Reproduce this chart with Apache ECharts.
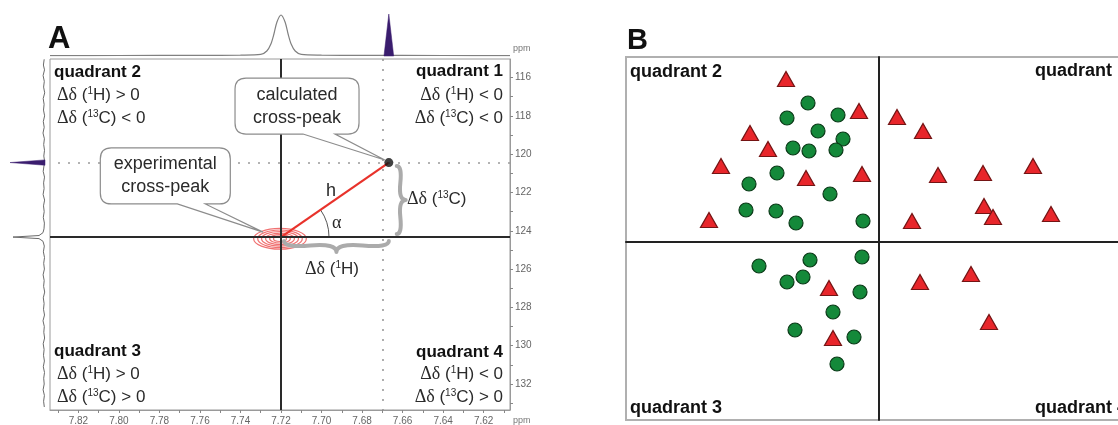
<!DOCTYPE html>
<html><head><meta charset="utf-8">
<script src="https://cdn.jsdelivr.net/npm/echarts@6/dist/echarts.min.js"></script>
<style>html,body{margin:0;padding:0;background:#fff}#c{width:1118px;height:425px}</style>
</head><body><div id="c"></div>
<script>
// ---------- Panel A data (1H ppm on x, 13C ppm on y) ----------
const xLabelsA = [7.82,7.80,7.78,7.76,7.74,7.72,7.70,7.68,7.66,7.64,7.62];
const xTicksA = [7.83,7.82,7.81,7.80,7.79,7.78,7.77,7.76,7.75,7.74,7.73,7.72,7.71,7.70,7.69,7.68,7.67,7.66,7.65,7.64,7.63,7.62,7.61];
const yLabelsA = [116,118,120,122,124,126,128,130,132];
const yTicksA = [116,117,118,119,120,121,122,123,124,125,126,127,128,129,130,131,132,133];
const expPeak = [7.72, 124.33];
const calcPeak = [7.6668, 120.44];
const contourCenter = [7.7205, 124.42];
const contourRx = [0.0130,0.0110,0.0091,0.0071,0.0051,0.0032];
const contourRy = [0.54,0.46,0.38,0.30,0.22,0.14];
// top 1D 1H trace: [ppm, intensity]
const topTrace = [[7.834,0.3],[7.80,0.5],[7.76,0.6],[7.74,0.9],[7.730,1.6],[7.727,5],[7.725,12],[7.7235,22],[7.722,34],[7.720,41],[7.718,34],[7.7165,22],[7.715,12],[7.713,5],[7.710,1.6],[7.70,0.9],[7.68,0.6],[7.64,0.5],[7.607,0.3]];
const topPurple = [[7.6692,0],[7.6668,42],[7.6644,0]];
// left 1D 13C trace: [intensity, ppm]
const leftTrace = [[0.8,115.05],[1.6,115.35],[0.5,115.6],[1.9,115.9],[0.7,116.2],[1.4,116.5],[0.3,116.8],[1.8,117.1],[0.9,117.4],[1.5,117.7],[0.4,118.0],[1.7,118.3],[0.8,118.6],[2.0,118.9],[0.6,119.2],[1.3,119.5],[0.5,119.8],[1.2,120.1],[0.6,120.3],[1.0,120.6],[1.8,120.9],[0.5,121.2],[1.4,121.5],[0.9,121.8],[1.9,122.1],[0.4,122.4],[1.5,122.7],[0.8,123.0],[1.7,123.3],[0.6,123.6],[1.0,123.9],[2.0,124.1],[6,124.25],[32,124.33],[6,124.41],[2.0,124.55],[0.7,124.8],[1.6,125.1],[0.5,125.4],[1.3,125.7],[0.6,126.0],[1.9,126.3],[0.8,126.6],[1.4,126.9],[0.3,127.2],[1.7,127.5],[0.9,127.8],[1.5,128.1],[0.5,128.4],[2.0,128.7],[0.7,129.0],[1.2,129.3],[0.4,129.6],[1.8,129.9],[0.9,130.2],[1.5,130.5],[0.6,130.8],[1.7,131.1],[0.5,131.4],[1.3,131.7],[0.8,132.0],[1.9,132.3],[0.6,132.6],[1.4,132.9],[0.7,133.2]];
const leftPurple = [[0,120.30],[35,120.44],[0,120.58]];
// braces: [x1, y1, x2, y2] in ppm
const braceH = [7.7185,124.54,7.6668,124.54];
const braceV = [7.6629,124.17,7.6629,120.62];
// callouts: [tipX, tipY, boxCenterX, boxCenterY] in ppm
const calloutCalc = [7.6678,120.36,7.7121,117.49];
const calloutExp = [7.7289,124.07,7.7771,121.14];

// ---------- Panel B data ----------
const circlesB = [[-7.1,13.9],[-9.2,12.4],[-4.1,12.7],[-6.1,11.1],[-3.6,10.3],[-8.6,9.4],[-7.0,9.1],[-4.3,9.2],[-10.2,6.9],[-13.0,5.8],[-4.9,4.8],[-13.3,3.2],[-10.3,3.1],[-8.3,1.9],[-1.6,2.1],[-12.0,-2.4],[-6.9,-1.8],[-1.7,-1.5],[-9.2,-4.0],[-7.6,-3.5],[-1.9,-5.0],[-4.6,-7.0],[-8.4,-8.8],[-2.5,-9.5],[-4.2,-12.2]];
const trianglesB = [[-9.3,16.3],[-2.0,13.1],[-12.9,10.9],[-11.1,9.3],[-15.8,7.6],[-7.3,6.4],[-1.7,6.8],[-17.0,2.2],[1.8,12.5],[4.4,11.1],[5.9,6.7],[10.4,6.9],[15.4,7.6],[10.5,3.6],[11.4,2.5],[17.2,2.8],[3.3,2.1],[4.1,-4.0],[9.2,-3.2],[11.0,-8.0],[-5.0,-4.6],[-4.6,-9.6]];

const FONT = 'Liberation Sans, Arial, sans-serif';
const SERIF = 'Liberation Serif, Times New Roman, serif';
const xMinA = 7.607, xMaxA = 7.834, yMinA = 115.034, yMaxA = 133.357;

function bracePath(x1,y1,x2,y2,w,q){
  let dx=x1-x2, dy=y1-y2; const len=Math.sqrt(dx*dx+dy*dy); dx/=len; dy/=len;
  const qx1=x1+q*w*dy, qy1=y1-q*w*dx;
  const qx2=(x1-.25*len*dx)+(1-q)*w*dy, qy2=(y1-.25*len*dy)-(1-q)*w*dx;
  const tx=(x1-.5*len*dx)+w*dy, ty=(y1-.5*len*dy)-w*dx;
  const qx3=x2+q*w*dy, qy3=y2-q*w*dx;
  const qx4=(x1-.75*len*dx)+(1-q)*w*dy, qy4=(y1-.75*len*dy)-(1-q)*w*dx;
  const c1x=2*qx2-qx1, c1y=2*qy2-qy1, c2x=2*qx4-qx3, c2y=2*qy4-qy3;
  return 'M'+x1+','+y1+' Q'+qx1+','+qy1+' '+qx2+','+qy2+' Q'+c1x+','+c1y+' '+tx+','+ty+
         ' M'+x2+','+y2+' Q'+qx3+','+qy3+' '+qx4+','+qy4+' Q'+c2x+','+c2y+' '+tx+','+ty;
}
function calloutPath(cx,cy,w,h,r,b1,b2,tx,ty){
  const x0=cx-w/2,x1=cx+w/2,y0=cy-h/2,y1=cy+h/2;
  return 'M'+(x0+r)+','+y0+' L'+(x1-r)+','+y0+' Q'+x1+','+y0+' '+x1+','+(y0+r)+
    ' L'+x1+','+(y1-r)+' Q'+x1+','+y1+' '+(x1-r)+','+y1+
    ' L'+(cx+b2)+','+y1+' L'+tx+','+ty+' L'+(cx+b1)+','+y1+
    ' L'+(x0+r)+','+y1+' Q'+x0+','+y1+' '+x0+','+(y1-r)+
    ' L'+x0+','+(y0+r)+' Q'+x0+','+y0+' '+(x0+r)+','+y0+' Z';
}
const calloutCfg = [
  {w:124,h:56,b1:6,b2:38,text:'calculated\ncross-peak',tdx:-2,tdy:-1},
  {w:130,h:56,b1:12,b2:40,text:'experimental\ncross-peak',tdx:0,tdy:0}
];

const rich = {
  d:{fontFamily:SERIF,fontSize:18,fill:'#2a2a2a'},
  s:{fontFamily:FONT,fontSize:10,verticalAlign:'top',lineHeight:9,fill:'#2a2a2a'}
};
function txt(x,y,text,o){
  o=o||{};
  return {type:'text',x:x,y:y,z:100,silent:true,style:{text:text,fontFamily:o.family||FONT,fontSize:o.size||17,
    fontWeight:o.weight||'normal',fill:o.color||'#2a2a2a',align:o.align||'left',textAlign:o.align||'left',
    verticalAlign:'middle',textVerticalAlign:'middle',rich:rich}};
}
const H = '{d|Δδ} ({s|1}H)';
const C = '{d|Δδ} ({s|13}C)';

const graphics = [
  txt(48,39,'A',{size:31,weight:'bold',color:'#111'}),
  txt(627,41,'B',{size:29,weight:'bold',color:'#111'}),
  txt(54,72,'quadrant 2',{weight:'bold',color:'#111'}),
  txt(57,95,H+' > 0'), txt(57,118,C+' < 0'),
  txt(503,71,'quadrant 1',{weight:'bold',color:'#111',align:'right'}),
  txt(503,95,H+' < 0',{align:'right'}), txt(503,118,C+' < 0',{align:'right'}),
  txt(54,351,'quadrant 3',{weight:'bold',color:'#111'}),
  txt(57,374,H+' > 0'), txt(57,397,C+' > 0'),
  txt(503,352,'quadrant 4',{weight:'bold',color:'#111',align:'right'}),
  txt(503,374,H+' < 0',{align:'right'}), txt(503,397,C+' > 0',{align:'right'}),
  txt(326,191,'h',{size:18}),
  txt(332,223,'{d|α}',{size:18}),
  txt(407,199,C,{size:17}),
  txt(305,269,H,{size:17}),
  txt(513,49,'ppm',{size:9,color:'#777'}),
  txt(513,421,'ppm',{size:9,color:'#777'}),
  txt(630,72,'quadrant 2',{size:18,weight:'bold',color:'#111'}),
  txt(1127,71,'quadrant 1',{size:18,weight:'bold',color:'#111',align:'right'}),
  txt(630,408,'quadrant 3',{size:18,weight:'bold',color:'#111'}),
  txt(1127,408,'quadrant 4',{size:18,weight:'bold',color:'#111',align:'right'})
];

function polygonRender(arr, color){
  return function(params, api){
    if (params.dataIndex !== 0) return;
    return {type:'polygon',shape:{points:arr.map(p=>api.coord(p))},style:{fill:color,stroke:color,lineWidth:0.5}};
  };
}

const chart = echarts.init(document.getElementById('c'));
chart.setOption({
  animation:false,
  backgroundColor:'#fff',
  graphic:graphics,
  grid:[
    {left:50,top:59,width:460,height:351,show:true,borderColor:'#9a9a9a',borderWidth:1,backgroundColor:'rgba(0,0,0,0)',outerBoundsMode:'none'},
    {left:50,top:10,width:460,height:46,outerBoundsMode:'none'},
    {left:5,top:59,width:42,height:351,outerBoundsMode:'none'},
    {left:626,top:57,width:506,height:363,show:true,borderColor:'#b0b0b0',borderWidth:2,backgroundColor:'rgba(0,0,0,0)',outerBoundsMode:'none'}
  ],
  xAxis:[
    {gridIndex:0,type:'value',min:xMinA,max:xMaxA,inverse:true,position:'bottom',
     axisLine:{show:true,onZero:false,lineStyle:{color:'#9a9a9a',width:1}},
     axisTick:{show:true,customValues:xTicksA,length:3,lineStyle:{color:'#888'}},
     axisLabel:{show:true,customValues:xLabelsA,formatter:v=>v.toFixed(2),color:'#666',fontSize:10,margin:6,fontFamily:FONT},
     splitLine:{show:false}},
    {gridIndex:1,type:'value',min:xMinA,max:xMaxA,inverse:true,show:false},
    {gridIndex:2,type:'value',min:-2,max:40,inverse:true,show:false},
    {gridIndex:3,type:'value',min:-25.3,max:25.3,axisLine:{show:true,onZero:true,lineStyle:{color:'#222',width:2}},
     axisTick:{show:false},axisLabel:{show:false},splitLine:{show:false}}
  ],
  yAxis:[
    {gridIndex:0,type:'value',min:yMinA,max:yMaxA,inverse:true,position:'right',
     axisLine:{show:true,onZero:false,lineStyle:{color:'#9a9a9a',width:1}},
     axisTick:{show:true,customValues:yTicksA,length:3,lineStyle:{color:'#888'}},
     axisLabel:{show:true,customValues:yLabelsA,color:'#666',fontSize:10,margin:5,fontFamily:FONT},
     splitLine:{show:false}},
    {gridIndex:1,type:'value',min:0,max:46,show:false},
    {gridIndex:2,type:'value',min:yMinA,max:yMaxA,inverse:true,show:false},
    {gridIndex:3,type:'value',min:-17.8,max:18.5,axisLine:{show:true,onZero:true,lineStyle:{color:'#222',width:2}},
     axisTick:{show:false},axisLabel:{show:false},splitLine:{show:false}}
  ],
  series:[
    {type:'line',xAxisIndex:1,yAxisIndex:1,data:topTrace,smooth:0.3,symbol:'none',lineStyle:{color:'#808080',width:1.2},z:2},
    {type:'custom',xAxisIndex:1,yAxisIndex:1,data:topPurple,renderItem:polygonRender(topPurple,'#3a1d6e'),z:3},
    {type:'line',xAxisIndex:2,yAxisIndex:2,data:leftTrace,symbol:'none',lineStyle:{color:'#6a6a6a',width:1},z:2},
    {type:'custom',xAxisIndex:2,yAxisIndex:2,data:leftPurple,renderItem:polygonRender(leftPurple,'#3a1d6e'),z:3},
    // guide lines
    {type:'line',xAxisIndex:0,yAxisIndex:0,data:[],z:1,
     markLine:{silent:true,symbol:['none','none'],label:{show:false},animation:false,
      data:[
        {xAxis:calcPeak[0],lineStyle:{color:'#9a9a9a',type:[2,8],width:1.6}},
        {yAxis:calcPeak[1],lineStyle:{color:'#9a9a9a',type:[2,8],width:1.6}},
        {xAxis:expPeak[0],lineStyle:{color:'#2a2a2a',type:'solid',width:2}},
        {yAxis:expPeak[1],lineStyle:{color:'#2a2a2a',type:'solid',width:2}}
      ]}},
    // contours
    {type:'custom',xAxisIndex:0,yAxisIndex:0,z:3,
     data:contourRx.map((rx,i)=>[contourCenter[0],contourCenter[1],rx,contourRy[i]]),
     renderItem:function(params,api){
       const c=api.coord([api.value(0),api.value(1)]);
       const e=api.coord([api.value(0)+api.value(2),api.value(1)+api.value(3)]);
       return {type:'ellipse',shape:{cx:c[0],cy:c[1],rx:Math.abs(e[0]-c[0]),ry:Math.abs(e[1]-c[1])},
         style:{fill:null,stroke:'#f07272',lineWidth:1.2}};
     }},
    // red h line
    {type:'line',xAxisIndex:0,yAxisIndex:0,data:[expPeak,calcPeak],symbol:'none',lineStyle:{color:'#e8322b',width:2.2},z:4},
    // braces
    {type:'custom',xAxisIndex:0,yAxisIndex:0,z:4,data:[braceH.concat([11]),braceV.concat([9])],
     renderItem:function(params,api){
       const a=api.coord([api.value(0),api.value(1)]), b=api.coord([api.value(2),api.value(3)]);
       return {type:'path',shape:{pathData:bracePath(a[0],a[1],b[0],b[1],api.value(4),0.6)},
         style:{fill:null,stroke:'#ababab',lineWidth:4,lineCap:'round',lineJoin:'round'}};
     }},
    // angle arc
    {type:'custom',xAxisIndex:0,yAxisIndex:0,z:4,data:[expPeak.concat(calcPeak)],
     renderItem:function(params,api){
       const a=api.coord([api.value(0),api.value(1)]), b=api.coord([api.value(2),api.value(3)]);
       const ang=Math.atan2(b[1]-a[1],b[0]-a[0]);
       return {type:'arc',shape:{cx:a[0],cy:a[1],r:48,startAngle:ang,endAngle:0,clockwise:true},
         style:{fill:null,stroke:'#555',lineWidth:1}};
     }},
    // callouts
    {type:'custom',xAxisIndex:0,yAxisIndex:0,z:6,data:[calloutCalc,calloutExp],
     renderItem:function(params,api){
       const cfg=calloutCfg[params.dataIndex];
       const t=api.coord([api.value(0),api.value(1)]), c=api.coord([api.value(2),api.value(3)]);
       return {type:'group',children:[
         {type:'path',shape:{pathData:calloutPath(c[0],c[1],cfg.w,cfg.h,11,cfg.b1,cfg.b2,t[0]+cfg.tdx,t[1]+cfg.tdy)},
          style:{fill:'#fff',stroke:'#8c8c8c',lineWidth:1.2}},
         {type:'text',style:{text:cfg.text,x:c[0],y:c[1],align:'center',verticalAlign:'middle',
          fontFamily:FONT,fontSize:18,lineHeight:23,fill:'#2a2a2a'}}
       ]};
     }},
    {type:'scatter',xAxisIndex:0,yAxisIndex:0,data:[calcPeak],symbolSize:9,itemStyle:{color:'#111'},z:7},
    // panel B
    {type:'scatter',xAxisIndex:3,yAxisIndex:3,data:circlesB,symbol:'circle',symbolSize:14,
     itemStyle:{color:'#14893a',borderColor:'#0b3a18',borderWidth:1.2,opacity:1},z:5},
    {type:'scatter',xAxisIndex:3,yAxisIndex:3,data:trianglesB,symbol:'triangle',symbolSize:[17,15],
     itemStyle:{color:'#e8262b',borderColor:'#741414',borderWidth:1.2,opacity:1},z:5}
  ]
});
</script>
</body></html>
